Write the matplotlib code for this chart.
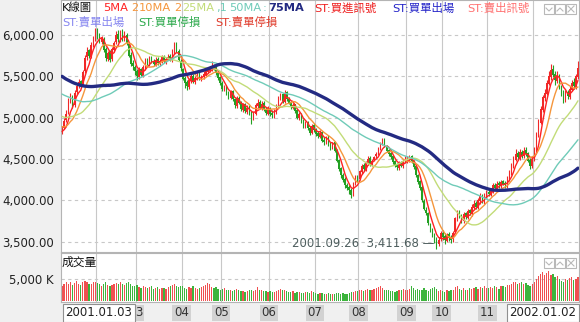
import numpy as np
import matplotlib
matplotlib.use("Agg")
import matplotlib.pyplot as plt
from matplotlib.patches import Rectangle

plt.rcParams['font.family'] = ['DejaVu Sans', 'Noto Sans CJK TC']

# late-2000 closes, only used to seed the moving averages
prior_closes = [6300, 6250, 6200, 6150, 6180, 6100, 6050, 6080, 6000, 5950, 6020, 5980, 5900, 5950, 5880, 5820,
                5800, 5750, 5700, 5680, 5720, 5650, 5700, 5720, 5690,
                5650, 5600, 5700, 5750, 5800, 5780, 5720, 5760, 5800, 5750, 5700, 5680, 5720, 5690, 5640, 5600,
                5500, 5420, 5350, 5300, 5250, 5280, 5200, 5150, 5120,
                5200, 5150, 5080, 5120, 5050, 5100, 5150, 5180, 5120, 5080, 5050, 5100, 5050, 5000, 5030,
                5000, 4950, 4980, 4920, 4900,
                4850, 4880, 4820, 4740]

# daily K-line, 2001.01.03 - 2002.01.02 (one row per month)
opens = [
    4800, 4880, 4970, 5060, 5210, 5260, 5150, 5310, 5390, 5440, 5400, 5560, 5730, 5820, 5740, 5890, 5960,
    6040, 5990, 5920, 5950, 5830, 5710, 5790, 5710, 5820, 5910, 6010, 5940, 6030, 5950, 6000, 5890, 5760, 5660, 5610,
    5570, 5490, 5590, 5510, 5600, 5700, 5650, 5730, 5690, 5640, 5710, 5650, 5680, 5740, 5670, 5720, 5750, 5690, 5790, 5890, 5810, 5690,
    5590, 5480, 5430, 5370, 5440, 5510, 5430, 5470, 5530, 5460, 5490, 5520, 5550, 5570, 5590, 5630, 5610, 5550, 5490,
    5420, 5340, 5390, 5310, 5240, 5320, 5230, 5140, 5240, 5190, 5090, 5170, 5070, 5130, 5060, 5000, 5050, 5140, 5190, 5110, 5180, 5110, 5050,
    5110, 5060, 5020, 5070, 5140, 5230, 5290, 5190, 5310, 5230, 5190, 5120, 5160, 5090, 4990, 5050, 4960, 4890, 4950, 4880, 4810, 4910,
    4860, 4810, 4770, 4830, 4730, 4690, 4770, 4690, 4630, 4700, 4610, 4490, 4390, 4310, 4260, 4190, 4160, 4130, 4070, 4210, 4290,
    4260, 4340, 4430, 4370, 4450, 4510, 4430, 4490, 4530, 4570, 4630, 4690, 4730, 4650, 4610, 4570, 4530, 4470, 4430, 4390, 4460, 4410, 4470,
    4470, 4490, 4530, 4480, 4410, 4310, 4230, 4160, 3990, 3880, 3840, 3700, 3640, 3570, 3530, 3470, 3530,
    3610, 3570, 3510, 3590, 3550, 3530, 3620, 3770, 3860, 3810, 3750, 3840, 3790, 3880, 3830, 3910, 3970, 3910, 3990, 4060, 3980, 4050,
    4100, 4070, 4110, 4190, 4140, 4210, 4170, 4230, 4210, 4170, 4250, 4330, 4410, 4490, 4570, 4510, 4590, 4530, 4610, 4570, 4490, 4410,
    4490, 4610, 4790, 4940, 5090, 5240, 5290, 5410, 5490, 5590, 5530, 5440, 5510, 5370, 5310, 5210, 5310, 5250, 5340, 5430, 5370, 5490,
]
highs = [
    4900, 4990, 5090, 5240, 5300, 5280, 5330, 5420, 5470, 5460, 5580, 5760, 5850, 5830, 5920, 5990, 6080,
    6080, 6020, 5990, 5980, 5860, 5810, 5820, 5850, 5930, 6050, 6060, 6060, 6070, 6050, 6030, 5920, 5790, 5700, 5640,
    5590, 5610, 5600, 5640, 5720, 5720, 5750, 5750, 5710, 5730, 5730, 5710, 5760, 5760, 5730, 5770, 5770, 5830, 5920, 5920, 5830, 5710,
    5600, 5500, 5460, 5480, 5530, 5530, 5500, 5550, 5550, 5520, 5560, 5580, 5610, 5620, 5680, 5650, 5620, 5560, 5500,
    5440, 5400, 5400, 5320, 5330, 5330, 5240, 5260, 5260, 5200, 5180, 5180, 5150, 5150, 5080, 5080, 5180, 5220, 5210, 5200, 5200, 5130, 5140,
    5130, 5090, 5100, 5170, 5260, 5300, 5300, 5330, 5320, 5250, 5200, 5180, 5170, 5100, 5070, 5060, 4980, 4960, 4960, 4900, 4920, 4930,
    4880, 4840, 4850, 4840, 4760, 4780, 4790, 4700, 4710, 4720, 4620, 4500, 4400, 4330, 4280, 4210, 4180, 4150, 4220, 4300, 4310,
    4370, 4440, 4450, 4480, 4530, 4530, 4500, 4540, 4580, 4640, 4700, 4750, 4750, 4670, 4620, 4590, 4540, 4490, 4450, 4470, 4480, 4500, 4540,
    4530, 4550, 4550, 4490, 4420, 4320, 4250, 4180, 4010, 3920, 3860, 3730, 3660, 3600, 3550, 3560, 3630,
    3640, 3600, 3610, 3620, 3580, 3630, 3800, 3880, 3880, 3830, 3860, 3860, 3900, 3900, 3950, 4000, 3990, 4030, 4090, 4080, 4090, 4130,
    4130, 4150, 4210, 4210, 4230, 4230, 4250, 4250, 4230, 4290, 4370, 4450, 4540, 4620, 4600, 4620, 4610, 4650, 4640, 4590, 4510, 4530,
    4650, 4830, 4980, 5140, 5280, 5350, 5460, 5560, 5650, 5640, 5560, 5560, 5530, 5400, 5340, 5340, 5340, 5380, 5460, 5480, 5530, 5680,
]
lows = [
    4800, 4860, 4950, 5040, 5180, 5120, 5130, 5290, 5360, 5370, 5390, 5540, 5700, 5720, 5720, 5860, 5930,
    5950, 5900, 5890, 5800, 5690, 5680, 5670, 5690, 5800, 5890, 5920, 5920, 5930, 5930, 5880, 5730, 5620, 5580, 5520,
    5460, 5470, 5500, 5490, 5580, 5640, 5630, 5660, 5620, 5620, 5640, 5630, 5660, 5660, 5650, 5700, 5680, 5670, 5770, 5800, 5680, 5570,
    5450, 5360, 5340, 5350, 5420, 5420, 5410, 5450, 5450, 5440, 5470, 5500, 5540, 5550, 5570, 5580, 5520, 5460, 5400,
    5320, 5320, 5280, 5220, 5220, 5200, 5120, 5120, 5160, 5080, 5070, 5060, 5050, 5030, 4920, 4970, 5030, 5120, 5100, 5090, 5080, 5030, 5030,
    5020, 5000, 5000, 5050, 5130, 5210, 5180, 5180, 5200, 5160, 5110, 5100, 5060, 4980, 4970, 4930, 4870, 4880, 4850, 4790, 4800, 4830,
    4780, 4750, 4750, 4700, 4670, 4680, 4660, 4610, 4620, 4580, 4460, 4350, 4270, 4220, 4150, 4120, 4080, 4030, 4050, 4180, 4220,
    4240, 4320, 4360, 4350, 4430, 4420, 4410, 4470, 4510, 4550, 4610, 4670, 4640, 4580, 4540, 4500, 4440, 4400, 4370, 4370, 4400, 4390, 4450,
    4450, 4460, 4450, 4380, 4280, 4200, 4120, 3980, 3880, 3820, 3700, 3620, 3550, 3480, 3411.68, 3450, 3510,
    3520, 3470, 3490, 3510, 3480, 3500, 3600, 3750, 3780, 3730, 3720, 3770, 3770, 3820, 3810, 3890, 3900, 3890, 3960, 3970, 3960, 4030,
    4050, 4050, 4090, 4120, 4120, 4150, 4150, 4180, 4150, 4150, 4230, 4310, 4390, 4470, 4490, 4490, 4510, 4510, 4530, 4460, 4380, 4390,
    4470, 4590, 4770, 4920, 5070, 5200, 5270, 5390, 5460, 5490, 5400, 5420, 5350, 5260, 5180, 5190, 5220, 5230, 5320, 5350, 5350, 5470,
]
closes = [
    4870, 4960, 5050, 5200, 5250, 5150, 5300, 5380, 5430, 5400, 5550, 5720, 5800, 5750, 5880, 5950, 6020,
    5980, 5930, 5960, 5820, 5720, 5780, 5700, 5830, 5900, 6000, 5950, 6020, 5960, 6010, 5900, 5750, 5650, 5620, 5560,
    5500, 5580, 5520, 5610, 5690, 5660, 5720, 5680, 5650, 5700, 5660, 5690, 5730, 5680, 5710, 5740, 5700, 5800, 5880, 5820, 5700, 5600,
    5470, 5420, 5380, 5450, 5500, 5440, 5480, 5520, 5470, 5500, 5530, 5560, 5580, 5600, 5620, 5600, 5540, 5480, 5420,
    5350, 5380, 5300, 5250, 5310, 5220, 5150, 5230, 5180, 5100, 5160, 5080, 5120, 5050, 4990, 5060, 5150, 5180, 5120, 5170, 5100, 5060, 5120,
    5050, 5030, 5080, 5150, 5240, 5280, 5200, 5300, 5220, 5180, 5130, 5150, 5080, 5000, 5040, 4950, 4900, 4940, 4870, 4820, 4900, 4850,
    4800, 4780, 4820, 4720, 4700, 4760, 4680, 4640, 4690, 4600, 4480, 4380, 4300, 4250, 4180, 4150, 4120, 4060, 4200, 4280, 4250,
    4350, 4420, 4380, 4460, 4500, 4440, 4480, 4520, 4560, 4620, 4680, 4720, 4660, 4600, 4560, 4520, 4460, 4420, 4400, 4450, 4420, 4480, 4520,
    4500, 4520, 4470, 4400, 4300, 4220, 4150, 4000, 3900, 3850, 3720, 3650, 3580, 3520, 3480, 3520, 3600,
    3560, 3520, 3580, 3540, 3520, 3600, 3780, 3850, 3800, 3760, 3830, 3800, 3870, 3840, 3920, 3960, 3920, 4000, 4050, 3990, 4060, 4100,
    4080, 4120, 4180, 4150, 4200, 4180, 4220, 4200, 4180, 4260, 4340, 4420, 4500, 4560, 4520, 4580, 4540, 4600, 4560, 4480, 4420, 4500,
    4620, 4800, 4950, 5100, 5250, 5300, 5420, 5500, 5580, 5520, 5450, 5500, 5380, 5300, 5220, 5300, 5260, 5350, 5420, 5380, 5500, 5600,
]
volumes = [  # thousand shares
    3400, 3900, 4200, 3800, 4300, 3600, 4100, 4500, 3900, 3700, 4200, 4600, 4400, 3900, 3800, 4200, 4400,
    4100, 3800, 3500, 3900, 4200, 3600, 3300, 3700, 3900, 4100, 3800, 4300, 3900, 3600, 4000, 4400, 3800, 3500, 3300,
    3600, 3200, 3000, 3400, 3100, 2900, 3200, 3300, 2800, 2900, 3100, 2700, 2900, 3000, 2800, 3100, 3300, 3600, 3900, 3500, 3200, 3400,
    3300, 3000, 2800, 3100, 2900, 3400, 3000, 2700, 2900, 3100, 3300, 3600, 4000, 3800, 3200, 3000, 3100, 2800, 2600,
    2700, 2900, 2500, 2400, 2600, 2300, 2500, 2700, 2400, 2200, 2300, 2100, 2200, 2400, 2600, 2300, 2500, 3100, 2600, 2400, 2200, 2300, 2100,
    2200, 2000, 2100, 2300, 2500, 2700, 2400, 2600, 2300, 2100, 2000, 2200, 1900, 2100, 2000, 1800, 1900, 2000, 2100, 1800, 2200, 2000,
    1800, 1700, 1900, 1800, 1600, 1700, 1800, 1600, 1700, 1600, 1800, 1900, 1700, 1800, 1600, 1700, 1800, 2000, 2100, 2300, 2200,
    2400, 2600, 2300, 2500, 2700, 2400, 2500, 2800, 2900, 3100, 3300, 3000, 2600, 2400, 2500, 2300, 2200, 2100, 2300, 2500, 2400, 2700, 2600,
    2500, 2700, 3300, 3000, 2600, 2800, 2400, 2600, 2900, 2500, 2300, 2700, 2900, 3100, 2800, 2200, 2600,
    2300, 2100, 2500, 2200, 2400, 2600, 3100, 3300, 2700, 2500, 2900, 2600, 2400, 3000, 2700, 2900, 3200, 2800, 3100, 2900, 3300, 3000,
    2900, 3200, 3000, 3400, 3100, 2800, 3300, 3500, 3200, 3600, 3700, 3900, 4200, 4400, 3900, 4100, 4300, 3800, 4000, 3700, 3500, 3800,
    4300, 4900, 5600, 6200, 6500, 6000, 6300, 6800, 5900, 6100, 5500, 5700, 4900, 4600, 4400, 5000, 4700, 5300, 5400, 4800, 5100, 5500,
]

# first trading day index of each month and its label ('' = hidden under a date box)
month_starts = [17, 36, 58, 77, 100, 122, 143, 166, 183, 205, 227]
month_labels = ['', '3', '04', '05', '06', '07', '08', '09', '10', '11', '']
first_date, last_date = '2001.01.03', '2002.01.02'
low_date, low_value = '2001.09.26', 3411.68

ma_periods = [5, 10, 25, 50, 75]
ma_colors = ['#ff2222', '#f5963c', '#c2dc78', '#6fcbb8', '#232a82']
ma_widths = [1.0, 1.0, 1.0, 1.0, 2.4]

RED, GREEN = '#f02828', '#23a023'
VRED, VGREEN = '#f05050', '#3cb43c'

opens, highs, lows, closes = map(np.array, (opens, highs, lows, closes))
volumes = np.array(volumes)
n = len(closes)
x = np.arange(n)
up = closes >= opens

W, H = 580, 322
fig = plt.figure(figsize=(W / 100, H / 100), dpi=100, facecolor='#f0f0f0')


def fx(px):
    return px / W


def fy(py):
    return 1 - py / H


ax = fig.add_axes([fx(61), fy(252), (579 - 61) / W, 252 / H])
axv = fig.add_axes([fx(61), fy(302), (579 - 61) / W, 49 / H])

for a in (ax, axv):
    a.set_facecolor('white')
    a.set_xlim(-0.5, n - 0.5)
    for s in a.spines.values():
        s.set_color('#b4b4b4')
        s.set_linewidth(0.8)
    a.set_xticks([])
    a.tick_params(axis='y', length=0, pad=5, labelsize=8.5, labelcolor='#222222')
    for m in month_starts:
        a.axvline(m - 0.5, color='#c8c8c8', lw=0.8, zorder=0)

# price panel
ax.set_ylim(3374, 6424)
yt = [3500, 4000, 4500, 5000, 5500, 6000]
ax.set_yticks(yt)
ax.set_yticklabels([f'{v:,.2f}' for v in yt])
for v in yt:
    ax.axhline(v, color='#c8c8c8', lw=0.8, ls=(0, (3, 3)), zorder=0)

col = np.where(up, RED, GREEN)
ax.vlines(x, lows, highs, colors=col, lw=0.8, zorder=2)
body = np.maximum(np.abs(closes - opens), 12)
ax.bar(x, body, bottom=np.minimum(opens, closes), width=0.7, color=col, lw=0, zorder=2)

full = np.concatenate([np.array(prior_closes, dtype=float), closes.astype(float)])
for p, c, w in zip(ma_periods, ma_colors, ma_widths):
    ma = np.convolve(full, np.ones(p) / p, mode='valid')[-n:]
    ax.plot(x, ma, color=c, lw=w, zorder=3 if p < 75 else 4, solid_capstyle='round')

low_idx = int(np.argmin(lows))
ax.text(low_idx - 0.8, low_value + 60, f'{low_date}  {low_value:,.2f} —', ha='right', va='center',
        fontsize=8.5, color='#4f5f5f', zorder=5)

# volume panel
axv.set_ylim(-230, 10900)
axv.set_yticks([5000])
axv.set_yticklabels(['5,000 K'])
axv.axhline(5000, color='#c8c8c8', lw=0.8, ls=(0, (3, 3)), zorder=0)
axv.bar(x, volumes, width=0.6, color=np.where(up, VRED, VGREEN), lw=0, zorder=2)
fig.text(fx(62), fy(262), '成交量', fontsize=8.5, va='center', color='#111111')

# legend rows
row1 = [(62, 'K線圖', '#111111', 'normal'), (103, '5MA', '#ff2222', 'normal'),
        (131, '2', '#f5963c', 'normal'), (139, '10MA', '#f5963c', 'normal'),
        (174, '2', '#f5963c', 'normal'), (182, '25MA', '#c2dc78', 'normal'),
        (216, ',1', '#6fcbb8', 'normal'), (229, '50MA', '#6fcbb8', 'normal'),
        (263, ':', '#6fcbb8', 'normal'), (268, '75MA', '#232a82', 'bold'),
        (314, 'ST:買進訊號', '#ee1c1c', 'normal'), (392, 'ST:買單出場', '#2323c8', 'normal'),
        (467, 'ST:賣出訊號', '#ff7070', 'normal')]
row2 = [(62, 'ST:賣單出場', '#8585f0', 'normal'), (138, 'ST:買單停損', '#2aa84a', 'normal'),
        (215, 'ST:賣單停損', '#e03a2a', 'normal')]
for px_, t, c, wgt in row1:
    fig.text(fx(px_), fy(8), t, color=c, fontsize=8.2, fontweight=wgt, va='center')
for px_, t, c, wgt in row2:
    fig.text(fx(px_), fy(22), t, color=c, fontsize=8.2, va='center')


# little window buttons
def buttons(top):
    for k, bx in enumerate([544, 555, 566]):
        fig.patches.append(Rectangle((fx(bx), fy(top + 10)), 10 / W, 10 / H, transform=fig.transFigure,
                                     facecolor='white', edgecolor='#b8b8b8', lw=0.8))
        cx, cy = bx + 5, top + 5
        if k == 0:
            xs, ys = [cx - 3, cx, cx + 3], [cy - 1, cy + 2, cy - 1]
        elif k == 1:
            xs, ys = [cx - 3, cx, cx + 3], [cy + 2, cy - 1, cy + 2]
        else:
            fig.add_artist(plt.Line2D([fx(cx - 3), fx(cx + 3)], [fy(cy + 3), fy(cy - 3)], color='#b8b8b8', lw=0.8))
            xs, ys = [cx - 3, cx + 3], [cy - 3, cy + 3]
        fig.add_artist(plt.Line2D([fx(v) for v in xs], [fy(v) for v in ys], color='#b8b8b8', lw=0.8))


buttons(4)
buttons(258)

# date labels under the volume panel
for m, lab in zip(month_starts, month_labels):
    if not lab:
        continue
    xpix = 61 + m * (518 / n)
    if len(lab) == 1:
        xpix += 3
    fig.text(fx(xpix), fy(313), lab, ha='center', va='center', fontsize=8.5, color='#333333',
             bbox=dict(boxstyle='square,pad=0.15', fc='#d2d2d2', ec='none'))
fig.text(fx(99), fy(313), first_date, ha='center', va='center', fontsize=8.5, color='#222222',
         bbox=dict(boxstyle='square,pad=0.25', fc='white', ec='#909090', lw=0.8))
fig.text(fx(543), fy(313), last_date, ha='center', va='center', fontsize=8.5, color='#222222',
         bbox=dict(boxstyle='square,pad=0.25', fc='white', ec='#909090', lw=0.8))

fig.savefig('out.png', dpi=100, facecolor=fig.get_facecolor())
